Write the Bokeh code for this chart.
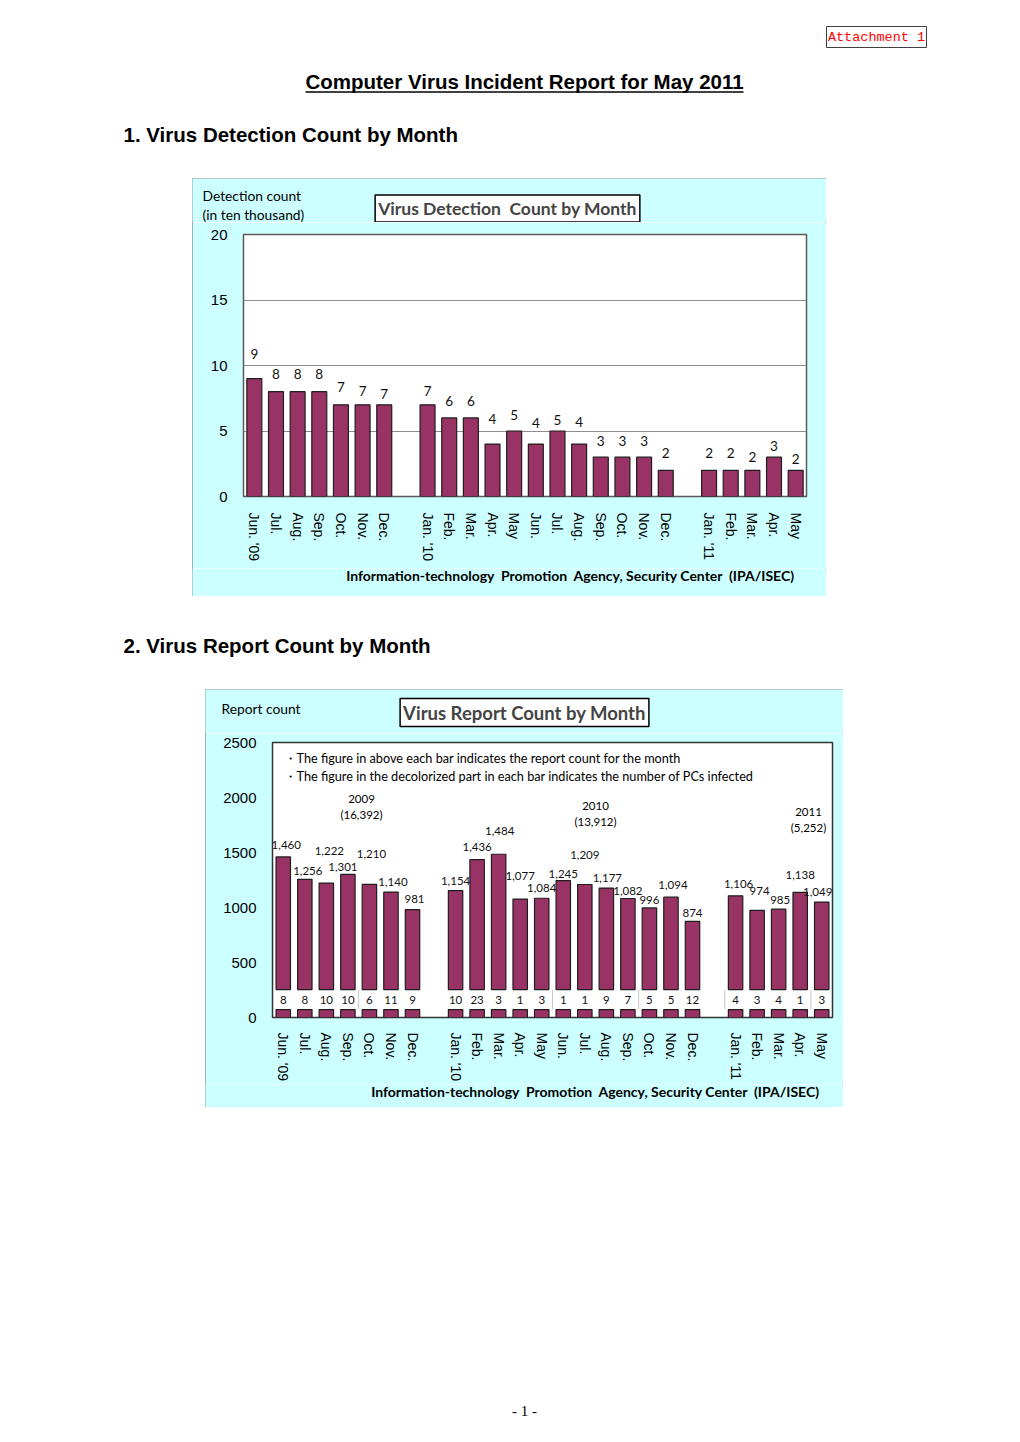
from bokeh.plotting import figure
from bokeh.models import Range1d, FixedTicker, Label, Spacer
from bokeh.layouts import column, row
from bokeh.embed import file_html
from bokeh.resources import INLINE
from bokeh.core.properties import value

# ---------------- data ----------------
months_2009 = ["Jun. '09", "Jul.", "Aug.", "Sep.", "Oct.", "Nov.", "Dec."]
months_2010 = ["Jan. '10", "Feb.", "Mar.", "Apr.", "May", "Jun.", "Jul.", "Aug.",
               "Sep.", "Oct.", "Nov.", "Dec."]
months_2011 = ["Jan. '11", "Feb.", "Mar.", "Apr.", "May"]

detections_2009 = [9, 8, 8, 8, 7, 7, 7]
detections_2010 = [7, 6, 6, 4, 5, 4, 5, 4, 3, 3, 3, 2]
detections_2011 = [2, 2, 2, 3, 2]

reports_2009 = [1460, 1256, 1222, 1301, 1210, 1140, 981]
reports_2010 = [1154, 1436, 1484, 1077, 1084, 1245, 1209, 1177, 1082, 996, 1094, 874]
reports_2011 = [1106, 974, 985, 1138, 1049]

infected_2009 = [8, 8, 10, 10, 6, 11, 9]
infected_2010 = [10, 23, 3, 1, 3, 1, 1, 9, 7, 5, 5, 12]
infected_2011 = [4, 3, 4, 1, 3]

year_names = ["2009", "2010", "2011"]
year_report_totals = [16392, 13912, 5252]

det_ticks = [0, 5, 10, 15, 20]
rep_ticks = [0, 500, 1000, 1500, 2000, 2500]

# ---------------- styles (label nudges in px, not data) ----------------
det_label_dy = [25, 18, 18, 18, 18, 14, 11,
                14, 17, 17, 25, 16, 21, 11, 22, 16, 16, 16, 17,
                17, 17, 13, 11, 11]
rep_label_dx = [3, 3, 3, -5, 2, 2, 2,
                0, 0, 1, 0, 0, 0, 0, 1, 0, 0, 2, 0,
                3, 2.5, 1.5, 0, -4]
rep_label_dy = [12, 8, 32, 7, 31, 10, 11,
                10, 13, 23, 23, 10, 7, 30, 10, 8, 8, 12, 8,
                12, 19, 9, 17, 10]
band_breaks = [3.5, 12.5, 16.5, 20.5, 24.5]

MAROON = "#993366"
CYAN = "#CCFFFF"
CAL = "Lato"
ARIAL = "Liberation Sans"
BOX_BORDER = {"outline": "1px solid #9a9a9a", "outline-offset": "-1px"}
NB = "\u00a0"

month_groups = [months_2009, months_2010, months_2011]
x_pos = []
k = 0
for g in month_groups:
    for _ in g:
        x_pos.append(k)
        k += 1
    k += 1
n_slots = k - 1
month_labels = months_2009 + months_2010 + months_2011
detections = detections_2009 + detections_2010 + detections_2011
reports = reports_2009 + reports_2010 + reports_2011
infected = infected_2009 + infected_2010 + infected_2011


def strip(left, right, top, bottom, fill="white"):
    """A plain figure whose data coordinates are page pixels."""
    f = figure(width=right - left, height=bottom - top, x_range=Range1d(left, right),
               y_range=Range1d(bottom, top), output_backend="svg",
               toolbar_location=None, min_border=0,
               x_axis_location=None, y_axis_location=None)
    f.outline_line_color = None
    f.grid.visible = False
    f.background_fill_color = fill
    f.border_fill_color = fill
    return f


def lab(p, x, y, text, size, font=CAL, align="left", style="normal", color="#000000", **kw):
    p.add_layout(Label(x=x, y=y, text=text, text_font=font, text_font_size=size,
                       text_align=align, text_baseline="middle", text_font_style=style,
                       text_color=color, **kw))


def boxed_title(p, cx, cy, text, size):
    p.add_layout(Label(x=cx + 3, y=cy + 3, text=text, text_font=CAL,
                       text_font_size=size, text_font_style="bold", text_alpha=0,
                       text_align="center", text_baseline="middle", padding=3,
                       background_fill_color="#7a7a7a", background_fill_alpha=0.45,
                       border_line_color=None))
    p.add_layout(Label(x=cx, y=cy, text=text, text_font=CAL,
                       text_font_size=size, text_font_style="bold",
                       text_align="center", text_baseline="middle", padding=3,
                       background_fill_color="white", border_line_color="#000000",
                       border_line_width=1.5))


def style_axes(p, yticks, standoff_x, standoff_y):
    p.yaxis.ticker = FixedTicker(ticks=yticks)
    p.yaxis.major_label_text_font = ARIAL
    p.yaxis.major_label_text_font_size = "15px"
    p.yaxis.major_label_standoff = standoff_y
    p.xaxis.ticker = FixedTicker(ticks=x_pos)
    p.xaxis.major_label_overrides = {xp: lab_ for xp, lab_ in zip(x_pos, month_labels)}
    p.xaxis.major_label_orientation = "vertical"
    p.xaxis.major_label_text_font = ARIAL
    p.xaxis.major_label_text_font_size = "14px"
    p.xaxis.major_label_standoff = standoff_x
    for ax in (p.xaxis, p.yaxis):
        ax.axis_line_color = None
        ax.major_tick_line_color = None
        ax.minor_tick_line_color = None
        ax.major_tick_in = 0
        ax.major_tick_out = 0
        ax.minor_tick_out = 0
        ax.major_label_text_color = "#000000"


SOURCE = (f"Information-technology{NB} Promotion{NB} Agency, Security Center{NB} (IPA/ISEC)")

# ---------------- header ----------------
head = strip(0, 1012, 0, 178)
head.quad(left=826, right=926, top=26, bottom=47, fill_color="white",
          line_color="#404040", line_width=1)
lab(head, 876, 37, "Attachment 1", "13.5px", font="Liberation Mono", align="center",
    color="#FF0000")
lab(head, 524, 81, "Computer Virus Incident Report for May 2011", "20.5px", font=ARIAL,
    align="center", style="bold")
head.segment(x0=305, y0=91.5, x1=743, y1=91.5, line_color="black", line_width=1.6)
lab(head, 123, 134, "1. Virus Detection Count by Month", "20.5px", font=ARIAL, style="bold")

# ---------------- chart 1 ----------------
C1L, C1R = 192, 826
t1 = strip(C1L, C1R, 178, 222, CYAN)
lab(t1, 202, 195, "Detection count", "13.8px")
lab(t1, 202, 214, "(in ten thousand)", "13.8px")
boxed_title(t1, 507, 208, f"Virus Detection{NB} Count by Month", "17.5px")

H1, BL1, BR1, BT1, BB1 = 346, 51, 20, 12, 72
p1 = figure(width=C1R - C1L, height=H1, output_backend="svg", toolbar_location=None,
            x_range=Range1d(-0.5, n_slots - 0.5), y_range=Range1d(0, 20),
            min_border_left=BL1, min_border_right=BR1,
            min_border_top=BT1, min_border_bottom=BB1)
sy1 = (H1 - BT1 - BB1) / 20
p1.border_fill_color = CYAN
p1.background_fill_color = "white"
p1.outline_line_color = "#5a5a5a"
p1.outline_line_width = 1.5
style_axes(p1, det_ticks, 16, 16)
p1.xgrid.visible = False
p1.ygrid.ticker = FixedTicker(ticks=det_ticks)
p1.ygrid.grid_line_color = "#8c8c8c"
p1.ygrid.grid_line_width = 1

p1.vbar(x=x_pos, top=detections, bottom=0, width=0.69, fill_color=MAROON,
        line_color="#1e1e1e", line_width=1.2)
p1.text(x=x_pos, y=[v + d / sy1 for v, d in zip(detections, det_label_dy)],
        text=[str(v) for v in detections], text_align="center", text_baseline="middle",
        text_font=value(CAL), text_font_size="13.5px", text_color="#111111")

b1 = strip(C1L, C1R, 568, 596, CYAN)
lab(b1, 570, 575, SOURCE, "14px", align="center", style="bold")

chart1 = column(row(t1), p1, row(b1))
chart1.styles = BOX_BORDER

# ---------------- middle ----------------
mid = strip(0, 1012, 596, 689)
lab(mid, 123, 645, "2. Virus Report Count by Month", "20.5px", font=ARIAL, style="bold")

# ---------------- chart 2 ----------------
C2L, C2R = 205, 843
t2 = strip(C2L, C2R, 689, 733, CYAN)
lab(t2, 221, 708, "Report count", "13.8px")
boxed_title(t2, 524, 712, "Virus Report Count by Month", "18.5px")

H2, BL2, BR2, BT2, BB2 = 351, 67, 11, 9, 66
p2 = figure(width=C2R - C2L, height=H2, output_backend="svg", toolbar_location=None,
            x_range=Range1d(-0.5, n_slots - 0.5), y_range=Range1d(0, 2500),
            min_border_left=BL2, min_border_right=BR2,
            min_border_top=BT2, min_border_bottom=BB2)
sx2 = (C2R - C2L - BL2 - BR2) / n_slots
sy2 = (H2 - BT2 - BB2) / 2500
p2.border_fill_color = CYAN
p2.background_fill_color = "white"
p2.outline_line_color = "#333333"
p2.outline_line_width = 1.5
style_axes(p2, rep_ticks, 15, 16)
p2.grid.visible = False

band_low = 8 / sy2     # decolorized band (screen px -> data)
band_high = 28 / sy2
p2.vbar(x=x_pos, top=reports, bottom=band_high, width=0.67, fill_color=MAROON,
        line_color="#1e1e1e", line_width=1.2)
p2.vbar(x=x_pos, top=band_low, bottom=0, width=0.67, fill_color=MAROON,
        line_color="#1e1e1e", line_width=1.2)
p2.segment(x0=band_breaks, x1=band_breaks, y0=[band_low] * len(band_breaks),
           y1=[band_high] * len(band_breaks), line_color="#c8c8c8", line_width=1)
p2.text(x=[xp + dx / sx2 for xp, dx in zip(x_pos, rep_label_dx)],
        y=[v + d / sy2 for v, d in zip(reports, rep_label_dy)],
        text=[f"{v:,}" for v in reports], text_align="center", text_baseline="middle",
        text_font=value(CAL), text_font_size="11.5px", text_color="#111111")
p2.text(x=x_pos, y=[18 / sy2] * len(x_pos), text=[str(v) for v in infected],
        text_align="center", text_baseline="middle",
        text_font=value(CAL), text_font_size="11.5px", text_color="#111111")

fl2 = C2L + BL2
fb2 = 733 + H2 - BB2


def to2(px, py):
    return (px - fl2) / sx2 - 0.5, (fb2 - py) / sy2


x, y = to2(283, 758)
lab(p2, x, y, "・The figure in above each bar indicates the report count for the month", "12.7px")
x, y = to2(283, 776)
lab(p2, x, y, "・The figure in the decolorized part in each bar indicates the number of PCs infected",
    "12.7px")
year_centers = [(361, 799), (595, 806), (808, 812)]
for (cx, cy), yn, tot in zip(year_centers, year_names, year_report_totals):
    x, y = to2(cx, cy)
    lab(p2, x, y, yn, "11.5px", align="center")
    x, y = to2(cx, cy + 15)
    lab(p2, x, y, f"({tot:,})", "11.5px", align="center")

b2 = strip(C2L, C2R, 1084, 1107, CYAN)
lab(b2, 595, 1091, SOURCE, "14px", align="center", style="bold")

chart2 = column(row(t2), p2, row(b2))
chart2.styles = BOX_BORDER

# ---------------- footer ----------------
foot = strip(0, 1012, 1107, 1434)
lab(foot, 524, 1410, "- 1 -", "15px", font="Liberation Serif", align="center")

layout = column(head,
                row(Spacer(width=C1L, height=418), chart1),
                mid,
                row(Spacer(width=C2L, height=418), chart2),
                foot)

open("out.html", "w").write(file_html(layout, INLINE))
